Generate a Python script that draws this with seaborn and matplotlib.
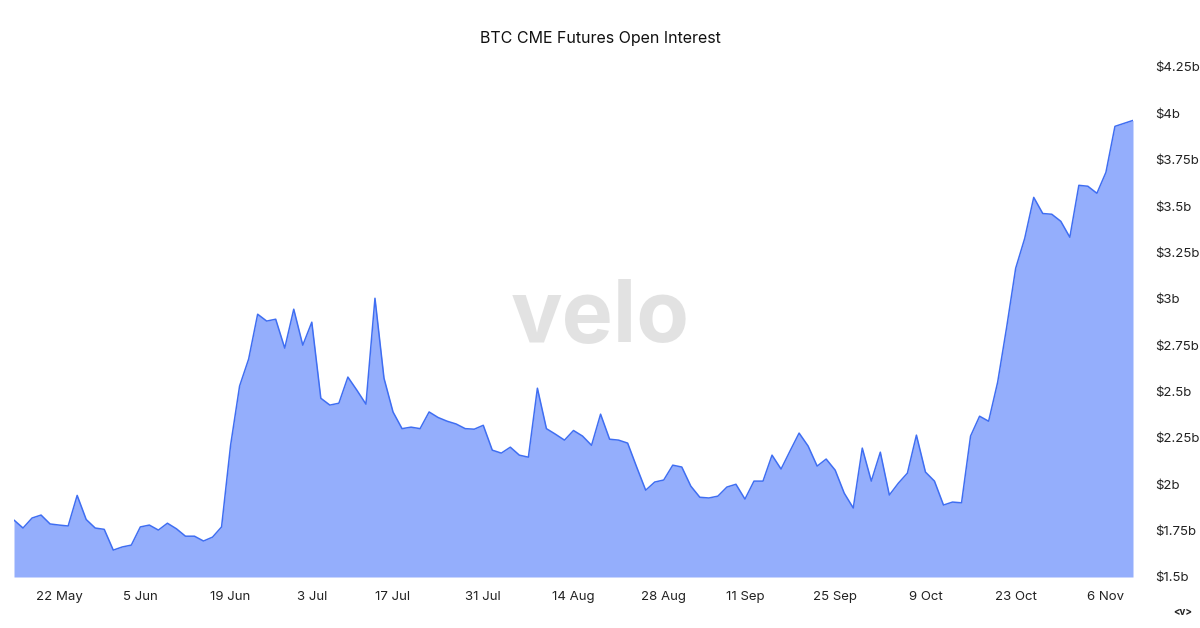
import matplotlib
matplotlib.use("Agg")
import matplotlib.pyplot as plt
import seaborn as sns
import pandas as pd
import numpy as np

oi_billions = [
    1.807, 1.764, 1.818, 1.834, 1.786, 1.780, 1.775, 1.940, 1.810, 1.764,
    1.757, 1.645, 1.662, 1.672, 1.770, 1.780, 1.753, 1.790, 1.760, 1.720,
    1.720, 1.694, 1.715, 1.770, 2.210, 2.530, 2.675, 2.917, 2.880, 2.890,
    2.734, 2.944, 2.750, 2.874, 2.464, 2.427, 2.437, 2.578, 2.507, 2.432,
    3.003, 2.572, 2.390,
    2.300, 2.308, 2.300, 2.390, 2.360, 2.340, 2.325, 2.300, 2.297, 2.318,
    2.184, 2.168, 2.200, 2.157, 2.146, 2.518, 2.300, 2.270, 2.238, 2.290,
    2.260, 2.210, 2.378, 2.243, 2.238, 2.222, 2.093, 1.968, 2.012, 2.023,
    2.103, 2.093, 1.990, 1.930, 1.926, 1.936, 1.985, 2.000, 1.920, 2.017,
    2.017, 2.157,
    2.082, 2.180, 2.276, 2.206, 2.098, 2.136, 2.076, 1.952, 1.872, 2.195,
    2.017, 2.173, 1.942, 2.006, 2.060, 2.265, 2.066, 2.017, 1.888, 1.904,
    1.900, 2.260, 2.367, 2.340, 2.550, 2.847, 3.165, 3.326, 3.547, 3.460,
    3.456, 3.418, 3.332, 3.612, 3.607, 3.569, 3.682, 3.930, 3.946, 3.962,
]
tick_positions = [5, 14, 24, 33, 42, 52, 62, 72, 81, 91, 101, 111, 121]
tick_labels = ["22 May", "5 Jun", "19 Jun", "3 Jul", "17 Jul", "31 Jul", "14 Aug",
               "28 Aug", "11 Sep", "25 Sep", "9 Oct", "23 Oct", "6 Nov"]
y_ticks = [1.5, 1.75, 2.0, 2.25, 2.5, 2.75, 3.0, 3.25, 3.5, 3.75, 4.0, 4.25]
y_tick_labels = ["$1.5b", "$1.75b", "$2b", "$2.25b", "$2.5b", "$2.75b", "$3b",
                 "$3.25b", "$3.5b", "$3.75b", "$4b", "$4.25b"]

sns.set_style("white")
plt.rcParams["font.family"] = ["Inter", "DejaVu Sans"]

df = pd.DataFrame({"idx": np.arange(len(oi_billions)), "oi": oi_billions})

fig = plt.figure(figsize=(12, 6.28), dpi=100)
ax = fig.add_axes([14 / 1200, 1 - 577 / 628, (1133 - 14) / 1200, (577 - 67) / 628])

ax.fill_between(df["idx"], df["oi"], 1.5, color="#94aefc", linewidth=0, zorder=1)
sns.lineplot(data=df, x="idx", y="oi", ax=ax, color="#3f6ef2", linewidth=1.1, zorder=2)

ax.set_xlim(0, len(oi_billions) - 1)
ax.set_ylim(1.5, 4.25)
ax.set_xticks(tick_positions)
ax.set_xticklabels(tick_labels, fontsize=9.5, color="#222222")
ax.set_yticks(y_ticks)
ax.set_yticklabels(y_tick_labels, fontsize=9.5, color="#222222")
ax.yaxis.tick_right()
ax.tick_params(axis="y", length=0, pad=16)
ax.tick_params(axis="x", length=0, pad=10)
ax.set_xlabel("")
ax.set_ylabel("")
for s in ax.spines.values():
    s.set_visible(False)
ax.grid(False)

fig.text(0.5, 1 - 38 / 628, "BTC CME Futures Open Interest", ha="center", va="center",
         fontsize=11.5, color="#111111")
fig.text(0.5, 1 - 320 / 628, "velo", ha="center", va="center", fontsize=62,
         fontweight="bold", color="#d9d9d9", alpha=0.75, zorder=0)
fig.text(1183 / 1200, 1 - 612 / 628, "<v>", ha="center", va="center", fontsize=7,
         fontweight="bold", color="#222222")

fig.savefig("out.png", dpi=100)
